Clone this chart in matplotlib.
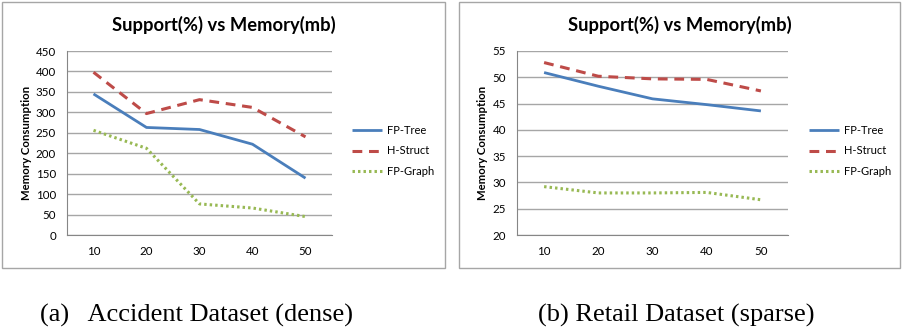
import matplotlib
matplotlib.use("Agg")
import matplotlib.pyplot as plt
from matplotlib.patches import Rectangle

plt.rcParams['font.family'] = ['Lato', 'DejaVu Sans']

# Support thresholds (%)
support = [10, 20, 30, 40, 50]
support_labels = ['10', '20', '30', '40', '50']

# Accident dataset (dense), memory in MB
accident_fp_tree = [345, 263, 258, 222, 139]
accident_h_struct = [398, 297, 331, 312, 240]
accident_fp_graph = [256, 212, 76, 66, 45]

# Retail dataset (sparse), memory in MB
retail_fp_tree = [50.9, 48.3, 45.9, 44.8, 43.6]
retail_h_struct = [52.8, 50.2, 49.7, 49.6, 47.4]
retail_fp_graph = [29.2, 28.0, 28.0, 28.1, 26.7]

series_names = ['FP-Tree', 'H-Struct', 'FP-Graph']

W, H = 902, 331
fig = plt.figure(figsize=(W / 100, H / 100), dpi=100)


def fx(px):
    return px / W


def fy(py):
    return 1 - py / H


def box(x0, y0, x1, y1):
    fig.patches.append(Rectangle((fx(x0), fy(y1)), fx(x1) - fx(x0), fy(y0) - fy(y1),
                                 transform=fig.transFigure, fill=False,
                                 edgecolor='#a6a6a6', linewidth=1.0))


def panel(x0, x1, box_x0, box_x1, ymin, ymax, ystep, data, legend_x, ylabel_x):
    box(box_x0, 2, box_x1, 268)
    ax = fig.add_axes([fx(x0), fy(235), fx(x1) - fx(x0), fy(51) - fy(235)])
    pos = [i + 0.5 for i in range(len(support))]
    styles = [
        dict(color='#4a7ebb', linestyle='-', linewidth=2.0),
        dict(color='#be4b48', linestyle=(0, (3.2, 2.2)), linewidth=2.2),
        dict(color='#98b954', linestyle=(0, (0.8, 1.0)), linewidth=2.2),
    ]
    handles = []
    for vals, name, st in zip(data, series_names, styles):
        h, = ax.plot(pos, vals, label=name, solid_capstyle='butt', dash_capstyle='butt', **st)
        handles.append(h)
    ax.set_xlim(0, len(support))
    ax.set_ylim(ymin, ymax)
    ax.set_xticks(pos)
    ax.set_xticklabels(support_labels)
    ticks = list(range(ymin, ymax + 1, ystep))
    ax.set_yticks(ticks)
    ax.tick_params(axis='y', labelsize=8.3, length=0, pad=8, colors='#000000')
    ax.tick_params(axis='x', labelsize=8.3, length=0, pad=8, colors='#000000')
    ax.yaxis.grid(True, color='#a6a6a6', linewidth=1.0)
    ax.set_axisbelow(True)
    for s in ('top', 'right'):
        ax.spines[s].set_visible(False)
    ax.spines['left'].set_color('#868686')
    ax.spines['bottom'].set_color('#868686')
    ax.set_facecolor('none')
    cx = (box_x0 + box_x1) / 2
    fig.text(fx(cx), fy(25), 'Support(%) vs Memory(mb)', ha='center', va='center',
             fontsize=13.2, fontweight='bold')
    fig.text(fx(ylabel_x), fy(143), 'Memory Consumption', rotation=90, ha='center',
             va='center', fontsize=8.2, fontweight='bold')
    fig.legend(handles=handles, loc='center left',
               bbox_to_anchor=(fx(legend_x), fy(151)), bbox_transform=fig.transFigure,
               frameon=False, fontsize=8.0, handlelength=2.7, handletextpad=0.45,
               labelspacing=0.85, borderpad=0, borderaxespad=0)
    return ax


panel(67, 332, 2, 445, 0, 450, 50,
      [accident_fp_tree, accident_h_struct, accident_fp_graph], 352, 27)
panel(517, 788, 459, 900, 20, 55, 5,
      [retail_fp_tree, retail_h_struct, retail_fp_graph], 809, 482)

cap_font = ['Liberation Serif', 'DejaVu Serif']
fig.text(fx(196), fy(315), '(a)   Accident Dataset (dense)', ha='center', va='center',
         fontsize=19, family=cap_font)
fig.text(fx(676), fy(315), '(b) Retail Dataset (sparse)', ha='center', va='center',
         fontsize=19, family=cap_font)

fig.savefig('out.png', dpi=100, facecolor='white')
